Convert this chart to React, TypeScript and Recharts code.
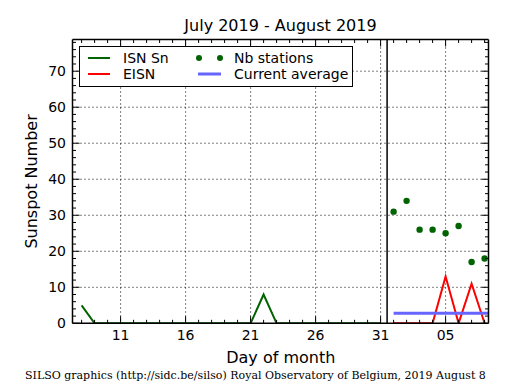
import {
  CartesianGrid,
  ComposedChart,
  Line,
  ReferenceLine,
  Scatter,
  XAxis,
  YAxis,
} from "recharts";

// daily values (day of month, August continues as 32, 33, ...)
const isnDays = [8, 9, 10, 11, 12, 13, 14, 15, 16, 17, 18, 19, 20, 21, 22, 23, 24, 25, 26, 27, 28, 29, 30, 31];
const isnValues = [5, 0, 0, 0, 0, 0, 0, 0, 0, 0, 0, 0, 0, 0, 8, 0, 0, 0, 0, 0, 0, 0, 0, 0];

const eisnDays = [32, 33, 34, 35, 36, 37, 38, 39];
const eisnValues = [0, 0, 0, 0, 13, 0, 11, 0];
const stationValues = [31, 34, 26, 26, 25, 27, 17, 18];

const averageDays = [32, 39.3];
const averageValues = [2.8, 2.8];

const monthBreak = 31.5;

const majorDays = [11, 16, 21, 26, 31, 36];
const majorDayLabels = ["11", "16", "21", "26", "31", "05"];
const minorDays = [8, 9, 10, 11, 12, 13, 14, 15, 16, 17, 18, 19, 20, 21, 22, 23, 24, 25, 26, 27, 28, 29, 30, 31, 32, 33, 34, 35, 36, 37, 38, 39];
const majorSsn = [0, 10, 20, 30, 40, 50, 60, 70];
const minorSsn = Array.from({ length: 40 }, (_, i) => i * 2);

const dayDomain: [number, number] = [7.3, 39.3];
const ssnDomain: [number, number] = [0, 78.8];

const toPoints = (days: number[], values: number[]) =>
  days.map((day, i) => ({ day, value: values[i] }));

const isnData = toPoints(isnDays, isnValues);
const eisnData = toPoints(eisnDays, eisnValues);
const stationData = toPoints(eisnDays, stationValues);
const averageData = toPoints(averageDays, averageValues);

const GREEN = "#006400";
const RED = "#ff0000";
const BLUE = "#6666ff";
const FONT = "'DejaVu Sans', sans-serif";

type TickProps = { x?: number; y?: number; payload?: { value: number } };

function BottomTick({ x = 0, y = 0, payload }: TickProps) {
  const idx = majorDays.indexOf(payload?.value ?? -1);
  return (
    <g>
      <line x1={x} x2={x} y1={y} y2={y - (idx >= 0 ? 7 : 3.5)} stroke="#000" />
      {idx >= 0 && (
        <text x={x} y={y + 17} textAnchor="middle" fontSize={14} fill="#000" fontFamily={FONT}>
          {majorDayLabels[idx]}
        </text>
      )}
    </g>
  );
}

function TopTick({ x = 0, y = 0, payload }: TickProps) {
  const major = majorDays.includes(payload?.value ?? -1);
  return <line x1={x} x2={x} y1={y} y2={y + (major ? 7 : 3.5)} stroke="#000" />;
}

function LeftTick({ x = 0, y = 0, payload }: TickProps) {
  const v = payload?.value ?? -1;
  const major = majorSsn.includes(v);
  return (
    <g>
      <line x1={x} x2={x + (major ? 7 : 3.5)} y1={y} y2={y} stroke="#000" />
      {major && (
        <text x={x - 6.5} y={y + 5} textAnchor="end" fontSize={14} fill="#000" fontFamily={FONT}>
          {v}
        </text>
      )}
    </g>
  );
}

function RightTick({ x = 0, y = 0, payload }: TickProps) {
  const major = majorSsn.includes(payload?.value ?? -1);
  return <line x1={x} x2={x - (major ? 7 : 3.5)} y1={y} y2={y} stroke="#000" />;
}

const frame = { stroke: "#000", strokeWidth: 1.5 };

function LegendBox() {
  return (
    <div
      style={{
        position: "absolute",
        left: 79,
        top: 46,
        width: 272,
        height: 39,
        border: "1.5px solid #000",
        background: "#fff",
        fontFamily: FONT,
        fontSize: 14,
      }}
    >
      <svg width={272} height={39} style={{ position: "absolute", left: 0, top: 0 }}>
        <line x1={8} x2={30} y1={11} y2={11} stroke={GREEN} strokeWidth={2} />
        <line x1={8} x2={30} y1={27} y2={27} stroke={RED} strokeWidth={2} />
        <circle cx={119} cy={11} r={3} fill={GREEN} />
        <circle cx={140} cy={11} r={3} fill={GREEN} />
        <line x1={118} x2={141} y1={27} y2={27} stroke={BLUE} strokeWidth={3} />
        <text x={43} y={16} fontSize={14} fontFamily={FONT}>ISN Sn</text>
        <text x={43} y={32} fontSize={14} fontFamily={FONT}>EISN</text>
        <text x={154} y={16} fontSize={14} fontFamily={FONT}>Nb stations</text>
        <text x={154} y={32} fontSize={14} fontFamily={FONT}>Current average</text>
      </svg>
    </div>
  );
}

export default function App() {
  return (
    <div
      style={{
        position: "absolute",
        left: 0,
        top: 0,
        width: 515,
        height: 390,
        background: "#fff",
        fontFamily: FONT,
      }}
    >
      <ComposedChart
        width={515}
        height={390}
        margin={{ top: 38.5, right: 25.5, bottom: 36.7, left: 12.5 }}
      >
        <CartesianGrid
          xAxisId="day"
          yAxisId="ssn"
          stroke="#000"
          strokeDasharray="1 3"
          horizontalValues={majorSsn.slice(1)}
          verticalValues={majorDays}
        />
        <XAxis
          xAxisId="dayTop"
          orientation="top"
          type="number"
          dataKey="day"
          domain={dayDomain}
          allowDataOverflow
          ticks={minorDays}
          interval={0}
          height={1}
          tickSize={0}
          tickMargin={0}
          tickLine={false}
          tick={<TopTick />}
          axisLine={frame}
        />
        <XAxis
          xAxisId="day"
          orientation="bottom"
          type="number"
          dataKey="day"
          domain={dayDomain}
          allowDataOverflow
          ticks={minorDays}
          interval={0}
          height={30}
          tickSize={0}
          tickMargin={0}
          tickLine={false}
          tick={<BottomTick />}
          axisLine={frame}
        />
        <YAxis
          yAxisId="ssn"
          orientation="left"
          type="number"
          domain={ssnDomain}
          allowDataOverflow
          ticks={minorSsn}
          interval={0}
          width={60}
          tickSize={0}
          tickMargin={0}
          tickLine={false}
          tick={<LeftTick />}
          axisLine={frame}
        />
        <YAxis
          yAxisId="ssnRight"
          orientation="right"
          type="number"
          domain={ssnDomain}
          allowDataOverflow
          ticks={minorSsn}
          interval={0}
          width={1}
          tickSize={0}
          tickMargin={0}
          tickLine={false}
          tick={<RightTick />}
          axisLine={frame}
        />
        <ReferenceLine xAxisId="day" yAxisId="ssn" x={monthBreak} stroke="#000" strokeWidth={1.5} />
        <Line
          xAxisId="day"
          yAxisId="ssn"
          data={isnData}
          dataKey="value"
          stroke={GREEN}
          strokeWidth={2}
          dot={false}
          activeDot={false}
          isAnimationActive={false}
        />
        <Line
          xAxisId="day"
          yAxisId="ssn"
          data={eisnData}
          dataKey="value"
          stroke={RED}
          strokeWidth={2}
          dot={false}
          activeDot={false}
          isAnimationActive={false}
        />
        <Scatter
          xAxisId="day"
          yAxisId="ssn"
          data={stationData}
          dataKey="value"
          fill={GREEN}
          shape={(p: { cx?: number; cy?: number }) => (
            <circle cx={p.cx} cy={p.cy} r={3.2} fill={GREEN} />
          )}
          isAnimationActive={false}
        />
        <Line
          xAxisId="day"
          yAxisId="ssn"
          data={averageData}
          dataKey="value"
          stroke={BLUE}
          strokeWidth={3}
          dot={false}
          activeDot={false}
          isAnimationActive={false}
        />
      </ComposedChart>
      <svg
        width={515}
        height={390}
        style={{ position: "absolute", left: 0, top: 0, pointerEvents: "none" }}
      >
        <text x={280.5} y={31} textAnchor="middle" fontSize={16} fontFamily={FONT}>
          July 2019 - August 2019
        </text>
        <text x={280.8} y={363.3} textAnchor="middle" fontSize={16} fontFamily={FONT}>
          Day of month
        </text>
        <text
          transform="translate(36.7,181.4) rotate(-90)"
          textAnchor="middle"
          fontSize={16}
          fontFamily={FONT}
        >
          Sunspot Number
        </text>
        <text x={25} y={379} fontSize={11} fontFamily="'DejaVu Serif', serif">
          SILSO graphics (http://sidc.be/silso) Royal Observatory of Belgium, 2019 August 8
        </text>
      </svg>
      <LegendBox />
    </div>
  );
}
